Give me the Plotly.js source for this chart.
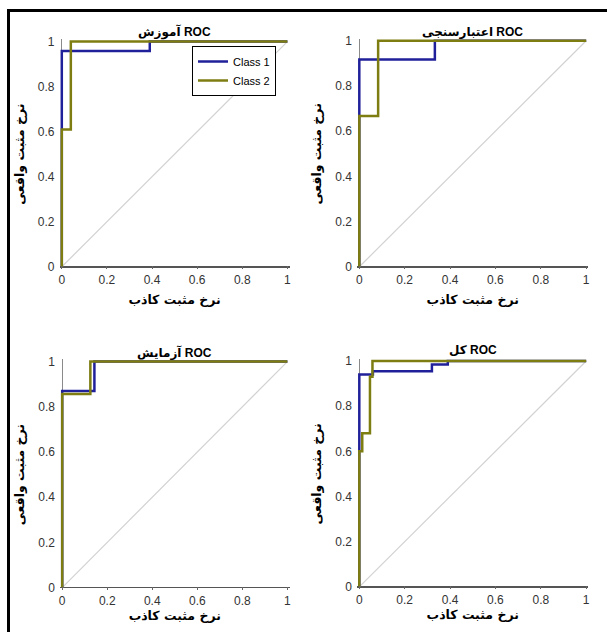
<!DOCTYPE html>
<html>
<head>
<meta charset="utf-8">
<script src="https://cdn.plot.ly/plotly-3.0.1.min.js"></script>
<style>html,body{margin:0;padding:0;background:#fff;}#chart{width:607px;height:632px;}</style>
</head>
<body>
<div id="chart"></div>
<script>
// ---- data ----
const panelTitles = ["آموزش ROC", "اعتبارسنجی ROC", "آزمایش ROC", "کل ROC"];
const xTitle = "نرخ مثبت کاذب";
const yTitle = "نرخ مثبت واقعی";
const seriesNames = ["Class 1", "Class 2"];
const tickVals = [0, 0.2, 0.4, 0.6, 0.8, 1];
const tickText = ["0", "0.2", "0.4", "0.6", "0.8", "1"];
const diagX = [0, 1];
const diagY = [0, 1];

// training
const trainC1x = [0, 0, 0.39, 0.39, 1];
const trainC1y = [0, 0.958, 0.958, 1, 1];
const trainC2x = [0, 0, 0.04, 0.04, 1];
const trainC2y = [0, 0.61, 0.61, 1, 1];
// validation
const valC1x = [0, 0, 0.333, 0.333, 1];
const valC1y = [0, 0.917, 0.917, 1, 1];
const valC2x = [0, 0, 0.083, 0.083, 1];
const valC2y = [0, 0.667, 0.667, 1, 1];
// test
const testC1x = [0, 0, 0.143, 0.143, 1];
const testC1y = [0, 0.870, 0.870, 1, 1];
const testC2x = [0, 0, 0.125, 0.125, 1];
const testC2y = [0, 0.857, 0.857, 1, 1];
// all
const allC1x = [0, 0, 0.06, 0.06, 0.32, 0.32, 0.39, 0.39, 1];
const allC1y = [0, 0.94, 0.94, 0.955, 0.955, 0.985, 0.985, 1, 1];
const allC2x = [0, 0, 0.013, 0.013, 0.047, 0.047, 0.058, 0.058, 1];
const allC2y = [0, 0.60, 0.60, 0.68, 0.68, 0.93, 0.93, 1, 1];

const panels = [
  {c1x: trainC1x, c1y: trainC1y, c2x: trainC2x, c2y: trainC2y},
  {c1x: valC1x, c1y: valC1y, c2x: valC2x, c2y: valC2y},
  {c1x: testC1x, c1y: testC1y, c2x: testC2x, c2y: testC2y},
  {c1x: allC1x, c1y: allC1y, c2x: allC2x, c2y: allC2y}
];

// ---- layout geometry (pixels) ----
const W = 607, H = 632;
const PAD = 0.01;
// [x0px, x1px, y0px (value 0), y1px (value 1)]
const boxes = [
  [61.8, 287.4, 266.8, 41.6],
  [359.3, 586.2, 266.8, 40.8],
  [62.2, 287.4, 587.6, 361.6],
  [359.3, 586.2, 586.8, 361.0]
];
const xStandoff = [9, 9, 4, 4];
const titleY = [32, 32, 352, 350];

const blue = "#20209a";
const olive = "#7d7d12";

const traces = [];
const layout = {
  width: W, height: H,
  margin: {l: 0, r: 0, t: 0, b: 0},
  paper_bgcolor: "#ffffff",
  plot_bgcolor: "#ffffff",
  showlegend: true,
  legend: {
    x: 192 / W, y: 1 - 46 / H, xanchor: "left", yanchor: "top",
    bgcolor: "#ffffff", bordercolor: "#000000", borderwidth: 1,
    font: {family: "Liberation Sans, Arial, sans-serif", size: 11, color: "#000"},
    tracegroupgap: 0, itemwidth: 30
  },
  annotations: [],
  shapes: [
    {type: "line", xref: "paper", yref: "paper", x0: 7 / W, x1: 1, y0: 1 - 10.5 / H, y1: 1 - 10.5 / H, line: {color: "#000", width: 3}},
    {type: "line", xref: "paper", yref: "paper", x0: 8.5 / W, x1: 8.5 / W, y0: 0, y1: 1 - 9 / H, line: {color: "#000", width: 3}}
  ]
};

panels.forEach((p, i) => {
  const n = i + 1;
  const xa = "x" + (n === 1 ? "" : n), ya = "y" + (n === 1 ? "" : n);
  const b = boxes[i];
  const sx = b[1] - b[0], sy = b[2] - b[3];
  const xd = [(b[0] - PAD * sx) / W, (b[1] + PAD * sx) / W];
  const yd = [1 - (b[2] + PAD * sy) / H, 1 - (b[3] - PAD * sy) / H];

  traces.push({x: diagX, y: diagY, xaxis: xa, yaxis: ya, mode: "lines",
    line: {color: "#d2d2d2", width: 1.2}, showlegend: false, hoverinfo: "skip"});
  traces.push({x: p.c1x, y: p.c1y, xaxis: xa, yaxis: ya, mode: "lines", name: seriesNames[0],
    line: {color: blue, width: 2.5}, showlegend: i === 0, legendgroup: "c1"});
  traces.push({x: p.c2x, y: p.c2y, xaxis: xa, yaxis: ya, mode: "lines", name: seriesNames[1],
    line: {color: olive, width: 2.5}, showlegend: i === 0, legendgroup: "c2"});

  const axBase = {
    range: [-PAD, 1 + PAD], showgrid: false, showline: false,
    zeroline: true, tickmode: "array", tickvals: tickVals, ticktext: tickText,
    ticks: "inside", ticklen: 3, tickcolor: "#666", tickwidth: 1,
    tickfont: {family: "Liberation Sans, Arial, sans-serif", size: 12, color: "#333"},
    fixedrange: true
  };
  layout["xaxis" + (n === 1 ? "" : n)] = Object.assign({}, axBase, {
    domain: xd, anchor: ya, zerolinecolor: "#8a8a8a", zerolinewidth: 1, ticklabelstandoff: 2,
    title: {text: xTitle, standoff: xStandoff[i],
      font: {family: "DejaVu Sans, sans-serif", size: 12.5, color: "#000", weight: "bold"}}
  });
  layout["yaxis" + (n === 1 ? "" : n)] = Object.assign({}, axBase, {
    domain: yd, anchor: xa, zerolinecolor: "#555", zerolinewidth: 1.5, ticks: "", ticklabelstandoff: 4,
    title: {text: yTitle, standoff: 10,
      font: {family: "DejaVu Sans, sans-serif", size: 12.5, color: "#000", weight: "bold"}}
  });
  layout.annotations.push({
    text: "<b>" + panelTitles[i] + "</b>", xref: "paper", yref: "paper",
    x: ((b[0] + b[1]) / 2) / W, y: 1 - titleY[i] / H, xanchor: "center", yanchor: "middle",
    showarrow: false, font: {family: "Liberation Sans, DejaVu Sans, sans-serif", size: 12, color: "#000"}
  });
});

Plotly.newPlot("chart", traces, layout, {displayModeBar: false, staticPlot: true});
</script>
</body>
</html>
